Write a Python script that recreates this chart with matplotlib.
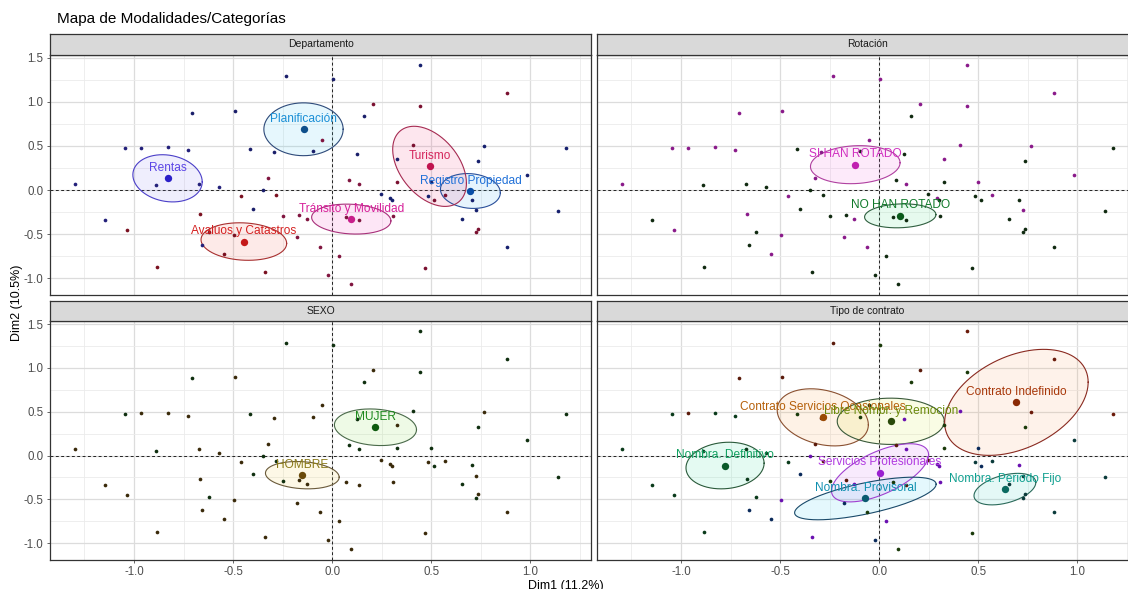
import numpy as np
import matplotlib
matplotlib.use("Agg")
import matplotlib.pyplot as plt
from matplotlib.ticker import MultipleLocator

plt.rcParams['font.family'] = ['Liberation Sans', 'DejaVu Sans']

# coordenadas de los individuos (Dim1, Dim2)
dim1 = [-1.299, -1.048, -0.965, -0.830, -0.730, -0.708, -0.490, -0.232, 0.004, 0.442,
        0.880, 0.207, 0.442, 0.160, -0.050, -0.413, -0.292, -0.097, 0.407, 0.764,
        1.180, 0.737, 0.326, 0.125, 0.981, -0.890, -0.674, -0.570, -0.324, -0.349,
        0.087, 0.133, 0.328, 0.496, -1.145, -1.037, -0.668, -0.461, -0.402, -0.282,
        -0.249, -0.168, -0.125, -0.624, -0.658, -0.548, -0.498, -0.180, -0.064, 0.033,
        -0.882, -0.338, -0.023, 0.095, 0.071, 0.133, 0.247, 0.290, 0.301, 0.305,
        0.483, 0.512, 0.568, 0.653, 0.707, 0.724, 0.737, 0.724, 0.467, 0.884, 1.141]
dim2 = [0.072, 0.474, 0.482, 0.490, 0.452, 0.880, 0.899, 1.290, 1.264, 1.423,
        1.100, 0.975, 0.949, 0.843, 0.573, 0.471, 0.433, 0.440, 0.509, 0.497,
        0.478, 0.330, 0.349, 0.414, 0.175, 0.053, 0.072, 0.034, 0.137, -0.004,
        0.118, 0.072, 0.091, 0.091, -0.338, -0.452, -0.273, -0.072, -0.213, -0.061,
        -0.292, -0.281, -0.330, -0.471, -0.619, -0.721, -0.512, -0.539, -0.645, -0.751,
        -0.877, -0.930, -0.960, -1.063, -0.307, -0.338, -0.046, -0.091, -0.118, -0.300,
        -0.072, -0.118, -0.061, -0.330, -0.110, -0.228, -0.444, -0.482, -0.884, -0.645, -0.243]

# modalidad de cada individuo por variable
departamento = ['REN', 'REN', 'REN', 'REN', 'REN', 'PLA', 'PLA', 'PLA', 'PLA', 'REG',
                'TUR', 'TUR', 'TUR', 'PLA', 'TRA', 'PLA', 'PLA', 'PLA', 'TUR', 'REG',
                'REG', 'REG', 'PLA', 'PLA', 'REG', 'REN', 'REN', 'REN', 'TRA', 'PLA',
                'TRA', 'TRA', 'TUR', 'REG', 'REN', 'AVA', 'AVA', 'AVA', 'PLA', 'AVA',
                'TRA', 'TRA', 'TRA', 'AVA', 'REN', 'AVA', 'AVA', 'TRA', 'TRA', 'TRA',
                'AVA', 'AVA', 'TRA', 'TRA', 'TRA', 'TRA', 'REG', 'REG', 'REG', 'TRA',
                'REG', 'TUR', 'TUR', 'REG', 'REG', 'REG', 'TUR', 'TUR', 'TUR', 'REG', 'REG']
rotacion = ['SI', 'SI', 'SI', 'SI', 'SI', 'SI', 'SI', 'SI', 'SI', 'SI',
            'SI', 'SI', 'SI', 'NO', 'SI', 'NO', 'SI', 'NO', 'SI', 'SI',
            'NO', 'NO', 'SI', 'NO', 'SI', 'NO', 'NO', 'NO', 'SI', 'NO',
            'NO', 'SI', 'NO', 'SI', 'NO', 'SI', 'SI', 'SI', 'NO', 'NO',
            'NO', 'NO', 'SI', 'NO', 'NO', 'SI', 'SI', 'SI', 'SI', 'NO',
            'NO', 'NO', 'NO', 'NO', 'NO', 'NO', 'NO', 'SI', 'NO', 'NO',
            'NO', 'NO', 'SI', 'NO', 'NO', 'SI', 'NO', 'NO', 'NO', 'NO', 'NO']
sexo = ['H', 'M', 'H', 'H', 'H', 'M', 'H', 'M', 'M', 'M',
        'M', 'H', 'M', 'M', 'H', 'M', 'H', 'H', 'M', 'H',
        'M', 'M', 'H', 'M', 'M', 'M', 'H', 'H', 'H', 'M',
        'M', 'M', 'M', 'M', 'H', 'H', 'H', 'H', 'M', 'M',
        'M', 'H', 'H', 'M', 'H', 'H', 'H', 'H', 'H', 'H',
        'H', 'H', 'H', 'H', 'H', 'H', 'H', 'H', 'H', 'H',
        'H', 'M', 'H', 'M', 'M', 'H', 'H', 'M', 'H', 'H', 'M']
contrato = ['DEF', 'DEF', 'CSO', 'DEF', 'DEF', 'CSO', 'CSO', 'CSO', 'LIB', 'IND',
            'IND', 'CSO', 'LIB', 'LIB', 'LIB', 'LIB', 'CSO', 'LIB', 'SPR', 'IND',
            'IND', 'LIB', 'LIB', 'SPR', 'PFI', 'DEF', 'DEF', 'DEF', 'CSO', 'SPR',
            'CSO', 'SPR', 'LIB', 'PRO', 'DEF', 'DEF', 'DEF', 'DEF', 'PRO', 'CSO',
            'LIB', 'CSO', 'SPR', 'DEF', 'PRO', 'PRO', 'SPR', 'PRO', 'LIB', 'SPR',
            'DEF', 'SPR', 'PRO', 'LIB', 'LIB', 'CSO', 'CSO', 'SPR', 'SPR', 'SPR',
            'PFI', 'PRO', 'PFI', 'PFI', 'SPR', 'PFI', 'PFI', 'PFI', 'LIB', 'PFI', 'PFI']

# modalidades: centro, semiejes y correlacion de la elipse de confianza
dep_codes = ['REN', 'PLA', 'REG', 'TUR', 'TRA', 'AVA']
dep_names = ['Rentas', 'Planificación', 'Registro Propiedad', 'Turismo',
             'Tránsito y Movilidad', 'Avalúos y Catastros']
dep_cx = [-0.831, -0.145, 0.697, 0.491, 0.096, -0.446]
dep_cy = [0.133, 0.690, -0.011, 0.269, -0.330, -0.585]
dep_sx = [0.175, 0.200, 0.151, 0.186, 0.200, 0.216]
dep_sy = [0.268, 0.300, 0.198, 0.455, 0.170, 0.213]
dep_rho = [-0.15, 0.0, -0.10, -0.42, -0.12, -0.10]

rot_codes = ['SI', 'NO']
rot_names = ['SI HAN ROTADO', 'NO HAN ROTADO']
rot_cx = [-0.121, 0.106]
rot_cy = [0.288, -0.293]
rot_sx = [0.226, 0.180]
rot_sy = [0.216, 0.136]
rot_rho = [0.10, 0.10]

sex_codes = ['M', 'H']
sex_names = ['MUJER', 'HOMBRE']
sex_cx = [0.218, -0.151]
sex_cy = [0.323, -0.224]
sex_sx = [0.207, 0.186]
sex_sy = [0.209, 0.156]
sex_rho = [-0.13, -0.15]

con_codes = ['CSO', 'LIB', 'IND', 'DEF', 'SPR', 'PRO', 'PFI']
con_names = ['Contrato Servicios Ocasionales', 'Libre Nombr. y Remoción', 'Contrato Indefinido',
             'Nombra. Definitivo', 'Servicios Profesionales', 'Nombra. Provisoral',
             'Nombra. Periodo Fijo']
con_cx = [-0.285, 0.058, 0.692, -0.778, 0.004, -0.070, 0.634]
con_cy = [0.436, 0.391, 0.607, -0.114, -0.197, -0.490, -0.383]
con_sx = [0.230, 0.270, 0.362, 0.197, 0.245, 0.357, 0.156]
con_sy = [0.326, 0.264, 0.605, 0.266, 0.332, 0.243, 0.180]
con_rho = [-0.26, 0.0, 0.38, 0.10, 0.62, 0.67, 0.42]

# colores: texto, punto medio, borde, relleno, individuos
styles = {
    'REN': ('#5B45E6', '#2B1FC8', '#4B3FC8', '#8A80F0', '#23207A'),
    'PLA': ('#1A8FD6', '#0D4F8B', '#2E4A7A', '#40C8F0', '#1A1E6A'),
    'REG': ('#1F70D8', '#0A4FA8', '#2A4F9A', '#40B0F0', '#16206E'),
    'TUR': ('#D4265C', '#C0134F', '#A62B52', '#F04080', '#7A1030'),
    'TRA': ('#D6209A', '#C81E8A', '#A8307A', '#F040C0', '#80153F'),
    'AVA': ('#D42020', '#C41A1A', '#A83030', '#F06050', '#7A1020'),
    'SI': ('#D030C0', '#C020B0', '#B040A0', '#F060E0', '#8A1A8A'),
    'NO': ('#107A2A', '#0A5A1A', '#2F5F3F', '#40E080', '#102A10'),
    'M': ('#1E8A1E', '#0E5A0E', '#4A6A4A', '#80E040', '#0F2F0F'),
    'H': ('#8A7A1A', '#6A4A0A', '#6A5A3A', '#F0D040', '#3A2A0A'),
    'CSO': ('#B5600A', '#9A4A05', '#8A5030', '#F8A040', '#5A1A0A'),
    'LIB': ('#6A8A0A', '#2A4A0A', '#3A5A3A', '#D8E830', '#1A3A0A'),
    'IND': ('#A8380A', '#8A2A05', '#8A2A20', '#F8A060', '#6A1A0A'),
    'DEF': ('#10A060', '#0A5A2A', '#2A5A3A', '#30E0A0', '#0A3A1A'),
    'SPR': ('#B03AE0', '#9A20D0', '#A040D0', '#D060F0', '#6A10B0'),
    'PRO': ('#1090B0', '#0A5A70', '#1A4A6A', '#30D0F0', '#0A2A5A'),
    'PFI': ('#10A090', '#0A6A60', '#2A6A5A', '#30D0C0', '#0A3A3A'),
}

W, H = 1128, 589
fig = plt.figure(figsize=(W / 100, H / 100), dpi=100)


def panel(rect, strip, title, groups, codes, names, cx, cy, sx, sy, rho,
          show_x, show_y):
    ax = fig.add_axes(rect)
    ax.set_xlim(-1.425, 1.307)
    ax.set_ylim(-1.192, 1.539)
    ax.xaxis.set_major_locator(MultipleLocator(0.5))
    ax.xaxis.set_minor_locator(MultipleLocator(0.25))
    ax.yaxis.set_major_locator(MultipleLocator(0.5))
    ax.yaxis.set_minor_locator(MultipleLocator(0.25))
    ax.grid(True, which='major', color='#DCDCDC', lw=0.9, zorder=0)
    ax.grid(True, which='minor', color='#EBEBEB', lw=0.6, zorder=0)
    ax.set_axisbelow(True)
    ax.tick_params(which='minor', length=0)
    ax.tick_params(which='major', length=2.5, width=0.6, colors='#4D4D4D',
                   labelsize=8.3, pad=2)
    ax.xaxis.set_major_formatter(lambda v, p: f'{v:.1f}')
    ax.yaxis.set_major_formatter(lambda v, p: f'{v:.1f}')
    if not show_x:
        ax.tick_params(axis='x', labelbottom=False, length=0)
    if not show_y:
        ax.tick_params(axis='y', labelleft=False, length=0)
    for s in ax.spines.values():
        s.set_color('#333333')
        s.set_linewidth(0.9)

    ax.axhline(0, color='#222222', ls=(0, (3, 2.5)), lw=0.7, zorder=1)
    ax.axvline(0, color='#222222', ls=(0, (3, 2.5)), lw=0.7, zorder=1)

    x = np.array(dim1)
    y = np.array(dim2)
    g = np.array(groups)
    t = np.linspace(0, 2 * np.pi, 200)
    for i, c in enumerate(codes):
        txt, dot, edge, fill, ind = styles[c]
        ex = cx[i] + sx[i] * np.cos(t)
        ey = cy[i] + sy[i] * (rho[i] * np.cos(t) + np.sqrt(1 - rho[i] ** 2) * np.sin(t))
        ax.fill(ex, ey, color=fill, alpha=0.13, lw=0, zorder=2)
        ax.plot(ex, ey, color=edge, lw=0.8, zorder=3)
        m = g == c
        ax.scatter(x[m], y[m], s=7, color=ind, lw=0, zorder=4)
    for i, c in enumerate(codes):
        txt, dot, edge, fill, ind = styles[c]
        ax.scatter([cx[i]], [cy[i]], s=28, color=dot, lw=0, zorder=5)
        ax.annotate(names[i], (cx[i], cy[i]), xytext=(0, 7.5),
                    textcoords='offset points', ha='center', va='center',
                    fontsize=8.6, color=txt, zorder=6)

    sa = fig.add_axes(strip)
    sa.set_xticks([])
    sa.set_yticks([])
    sa.set_facecolor('#D9D9D9')
    for s in sa.spines.values():
        s.set_color('#333333')
        s.set_linewidth(0.9)
    sa.text(0.5, 0.5, title, ha='center', va='center', fontsize=7.5, color='#1A1A1A',
            transform=sa.transAxes)
    return ax


left, right, pw = 49.8 / W, 596.8 / W, 541.5 / W
top_b, top_h = 1 - 295 / H, 240.5 / H
bot_b, bot_h = 1 - 560 / H, 239.3 / H
top_strip = (1 - 54.5 / H, 20.5 / H)
bot_strip = (1 - 320.7 / H, 19.7 / H)

panel([left, top_b, pw, top_h], [left, top_strip[0], pw, top_strip[1]], 'Departamento',
      departamento, dep_codes, dep_names, dep_cx, dep_cy, dep_sx, dep_sy, dep_rho,
      False, True)
panel([right, top_b, pw, top_h], [right, top_strip[0], pw, top_strip[1]], 'Rotación',
      rotacion, rot_codes, rot_names, rot_cx, rot_cy, rot_sx, rot_sy, rot_rho,
      False, False)
panel([left, bot_b, pw, bot_h], [left, bot_strip[0], pw, bot_strip[1]], 'SEXO',
      sexo, sex_codes, sex_names, sex_cx, sex_cy, sex_sx, sex_sy, sex_rho,
      True, True)
panel([right, bot_b, pw, bot_h], [right, bot_strip[0], pw, bot_strip[1]], 'Tipo de contrato',
      contrato, con_codes, con_names, con_cx, con_cy, con_sx, con_sy, con_rho,
      True, False)

fig.text(57 / W, 1 - 19 / H, 'Mapa de Modalidades/Categorías', fontsize=11,
         ha='left', va='center', color='black')
fig.text(17 / W, 1 - 303 / H, 'Dim2 (10.5%)', rotation=90, fontsize=9,
         ha='center', va='center')
fig.text(566 / W, 1 - 586 / H, 'Dim1 (11.2%)', fontsize=9, ha='center', va='center')

fig.savefig('out.png', dpi=100)
